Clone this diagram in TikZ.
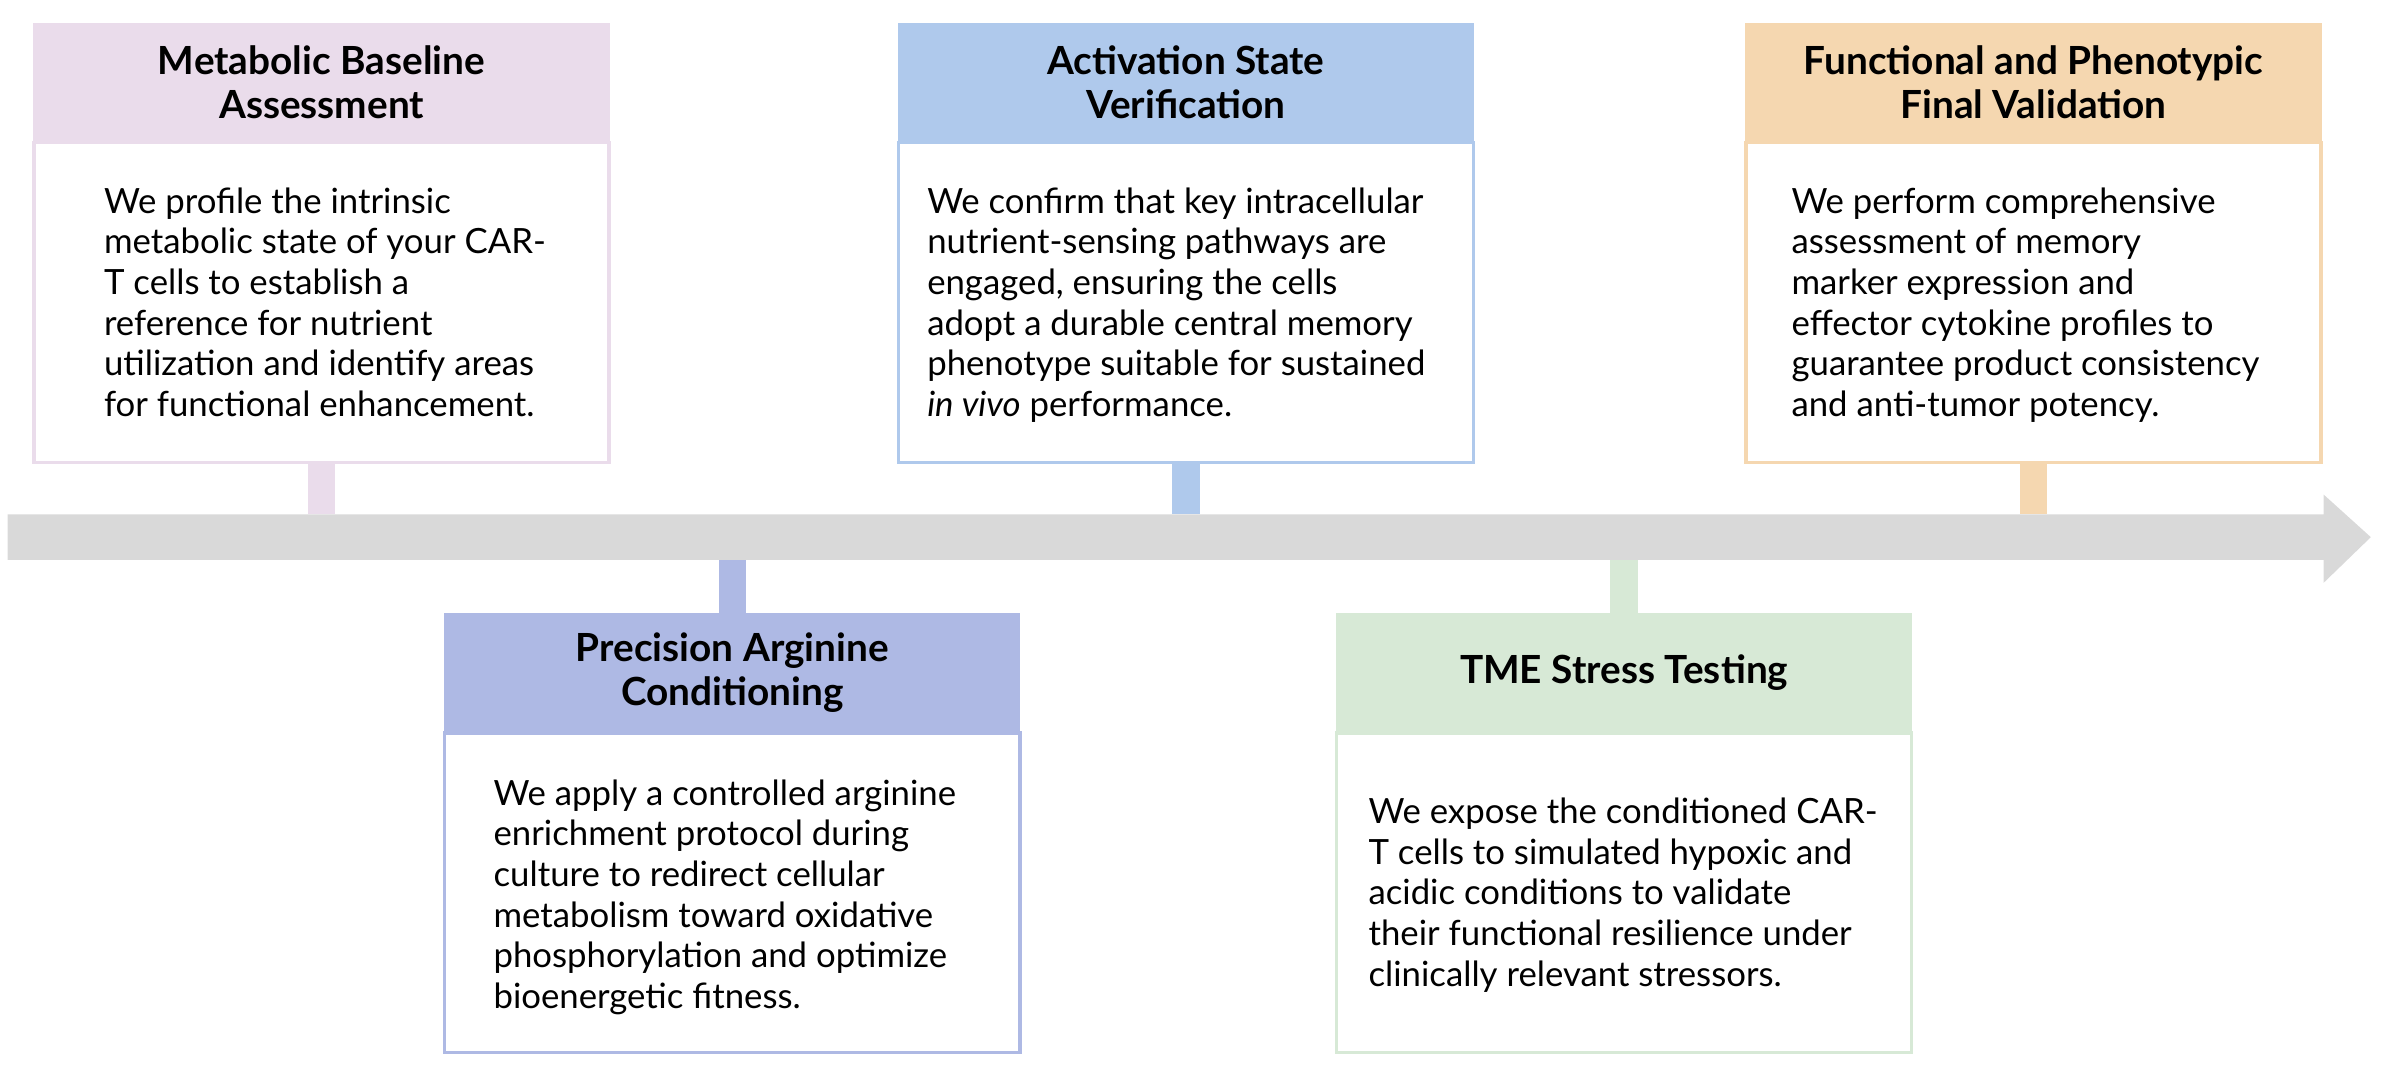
\documentclass[tikz,border=0pt]{standalone}
\usepackage{fontspec}
\setmainfont{Lato}
\usetikzlibrary{positioning,shapes.arrows}
\definecolor{pinkc}{HTML}{EADCEB}
\definecolor{bluec}{HTML}{AFC9EC}
\definecolor{orangec}{HTML}{F5D7B0}
\definecolor{periwc}{HTML}{AEB9E4}
\definecolor{greenc}{HTML}{D7E9D6}
\definecolor{railc}{HTML}{D9D9D9}
\tikzset{
  head/.style={fill=#1, draw=#1, minimum width=7.56cm, minimum height=1.54cm,
    inner sep=0pt, align=center, font=\bfseries\fontsize{14.5}{16.5}\selectfont},
  body/.style={draw=#1, line width=1.2pt, fill=white, minimum width=7.56cm,
    minimum height=4.2cm, inner sep=0pt},
  txt/.style={align=left, inner sep=0pt, font=\fontsize{13}{15.2}\selectfont},
  stem/.style={#1, line width=0.36cm}
}
\begin{document}
\begin{tikzpicture}[x=0.02cm, y=-0.02cm]
\useasboundingbox (0,0) rectangle (1568,710);
% timeline rail
\fill[railc] (5,338) -- (1527,338) -- (1527,325) -- (1558,353) -- (1527,383)
  -- (1527,368) -- (5,368) -- cycle;
\coordinate (railtop) at (0,338);
\coordinate (railbot) at (0,368);
% upper boxes
\node[head=pinkc, anchor=north west] (h1) at (22,15) {Metabolic Baseline\\Assessment};
\node[body=pinkc, below=0pt of h1] (b1) {};
\node[txt, anchor=north west] (t1) at (68,123) {We profile the intrinsic\\metabolic state of your CAR-\\T cells to establish a\\reference for nutrient\\utilization and identify areas\\for functional enhancement.};
\node[head=bluec, anchor=north west] (h2) at (590,15) {Activation State\\Verification};
\node[body=bluec, below=0pt of h2] (b2) {};
\node[txt, anchor=north west] (t2) at (609,123) {We confirm that key intracellular\\nutrient-sensing pathways are\\engaged, ensuring the cells\\adopt a durable central memory\\phenotype suitable for sustained\\\textit{in vivo} performance.};
\node[head=orangec, anchor=north west] (h3) at (1147,15) {Functional and Phenotypic\\Final Validation};
\node[body=orangec, below=0pt of h3] (b3) {};
\node[txt, anchor=north west] (t3) at (1177,123) {We perform comprehensive\\assessment of memory\\marker expression and\\effector cytokine profiles to\\guarantee product consistency\\and anti-tumor potency.};
% lower boxes
\node[head=periwc, anchor=north west] (h4) at (292,403) {Precision Arginine\\Conditioning};
\node[body=periwc, below=0pt of h4] (b4) {};
\node[txt, anchor=north west] (t4) at (324,512) {We apply a controlled arginine\\enrichment protocol during\\culture to redirect cellular\\metabolism toward oxidative\\phosphorylation and optimize\\bioenergetic fitness.};
\node[head=greenc, anchor=north west] (h5) at (878,403) {TME Stress Testing};
\node[body=greenc, below=0pt of h5] (b5) {};
\node[txt, anchor=north west] (t5) at (899,524) {We expose the conditioned CAR-\\T cells to simulated hypoxic and\\acidic conditions to validate\\their functional resilience under\\clinically relevant stressors.};
% stems
\draw[stem=pinkc] (b1.south) -- (b1.south |- railtop);
\draw[stem=bluec] (b2.south) -- (b2.south |- railtop);
\draw[stem=orangec] (b3.south) -- (b3.south |- railtop);
\draw[stem=periwc] (h4.north) -- (h4.north |- railbot);
\draw[stem=greenc] (h5.north) -- (h5.north |- railbot);
\end{tikzpicture}
\end{document}
